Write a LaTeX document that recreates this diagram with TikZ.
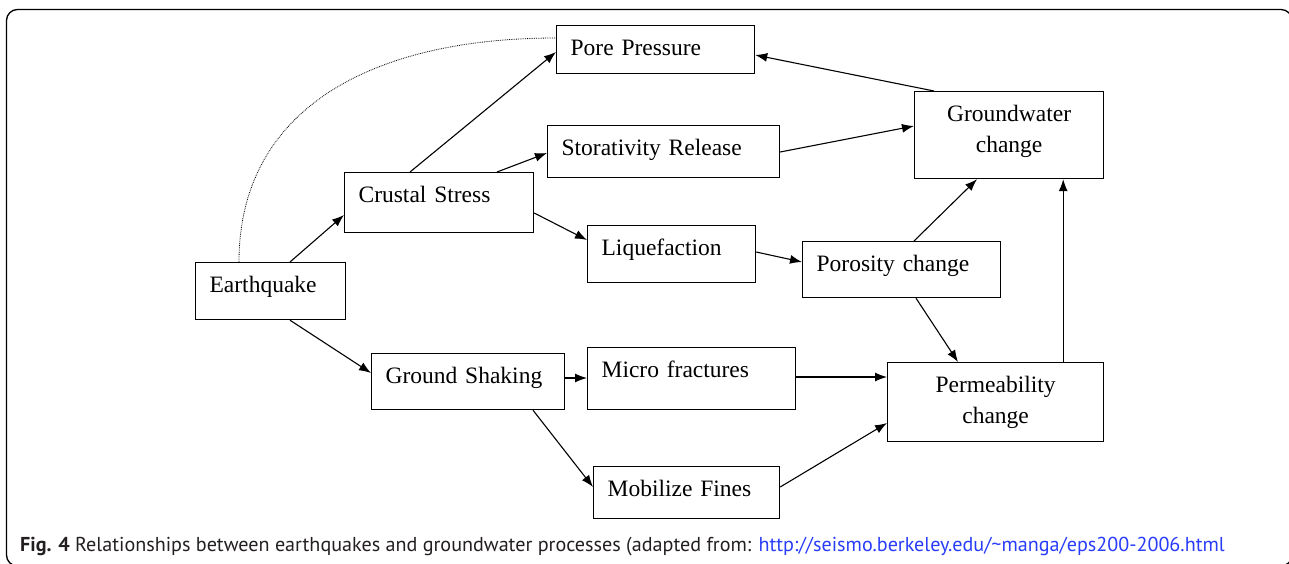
\documentclass[tikz,border=0pt]{standalone}
\usepackage{fontspec}
\setmainfont{Liberation Serif}
\newfontfamily\legende{PT Sans}
\usepackage{tikz}
\usetikzlibrary{arrows}
\usetikzlibrary{arrows.meta}
\definecolor{lien}{RGB}{40,60,250}
\definecolor{gristexte}{RGB}{35,31,32}

\begin{document}
\begin{tikzpicture}[x=1pt,y=-1pt]
	\tikzstyle{boite}=[draw,line width=1.2pt,anchor=north west,inner xsep=14pt,inner ysep=0pt,text height=30pt,align=left,font=\fontsize{23.5}{31}\selectfont]
	\tikzstyle{boitec}=[boite,align=center]
	\tikzstyle{fleche}=[line width=1.1pt,-{Latex[length=12pt,width=9pt]}]
	\clip (0,0) rectangle (1289,563);
	% cadre
	\draw[line width=1.3pt,rounded corners=11pt] (6.5,9.5) rectangle (1292,566);
	% boites
	\node[boite,text width=122pt,text depth=27pt] (EQ) at (195,262){Earthquake};
	\node[boite,text width=161pt,text depth=30pt] (CS) at (344,172){Crustal Stress};
	\node[boite,text width=170pt,text depth=18pt] (PP) at (556,25){Pore Pressure};
	\node[boite,text width=204pt,text depth=22pt] (SR) at (547,125){Storativity Release};
	\node[boite,text width=140pt,text depth=27pt] (LQ) at (587,225){Liquefaction};
	\node[boitec,text width=161pt,text depth=57pt] (GW) at (914,91){Groundwater\\change};
	\node[boite,text width=170pt,text depth=26pt] (PC) at (802,241){Porosity change};
	\node[boite,text width=165pt,text depth=26pt] (GS) at (371,353){Ground Shaking};
	\node[boite,text width=180pt,text depth=32pt] (MF) at (587,347){Micro fractures};
	\node[boitec,text width=188pt,text depth=49pt] (PM) at (887,362){Permeability\\change};
	\node[boite,text width=158pt,text depth=22pt] (MB) at (593,466){Mobilize Fines};
	% liens
	\draw[fleche] ([xshift=95pt]EQ.north west) -- ([yshift=-43pt]CS.north west);
	\draw[fleche] ([xshift=95pt]EQ.south west) -- ([yshift=-20pt]GS.north west);
	\draw[fleche] ([xshift=66pt]CS.north west) -- ([yshift=-27pt]PP.north west);
	\draw[fleche] ([xshift=153pt]CS.north west) -- ([yshift=-28pt]SR.north west);
	\draw[fleche] ([yshift=-41pt]CS.north east) -- ([yshift=-15pt]LQ.north west);
	\draw[fleche] ([xshift=20pt]GW.north west) -- ([yshift=-30pt]PP.north east);
	\draw[fleche] ([yshift=-27pt]SR.north east) -- ([yshift=-35pt]GW.north west);
	\draw[fleche] ([yshift=-27pt]LQ.north east) -- ([yshift=-21pt]PC.north west);
	\draw[fleche] ([xshift=112pt]PC.north west) -- ([xshift=63pt]GW.south west);
	\draw[fleche] ([xshift=114pt]PC.south west) -- ([xshift=71pt]PM.north west);
	\draw[fleche] ([xshift=-41pt]PM.north east) -- ([xshift=-41pt]GW.south east);
	\draw[fleche] ([yshift=-25pt]GS.north east) -- ([yshift=-31pt]MF.north west);
	\draw[fleche] ([xshift=162pt]GS.south west) -- ([yshift=-21pt]MB.north west);
	\draw[fleche] ([yshift=-30pt]MF.north east) -- ([yshift=-15pt]PM.north west);
	\draw[fleche] ([yshift=-21pt]MB.north east) -- ([yshift=-61pt]PM.north west);
	\draw[densely dotted,line width=0.8pt] ([xshift=44pt]EQ.north west) .. controls (239,110) and (370,38) .. ([yshift=-13pt]PP.north west);
	% legende
	\node[anchor=base west,inner sep=0pt,font=\legende\fontsize{20.13}{24}\selectfont,text=gristexte] (CAP) at (20,551)
		{\textbf{Fig. 4} Relationships between earthquakes and groundwater processes (adapted from: \textcolor{lien}{http://seismo.berkeley.edu/\char`\~manga/eps200-2006.html}};
\end{tikzpicture}
\end{document}
